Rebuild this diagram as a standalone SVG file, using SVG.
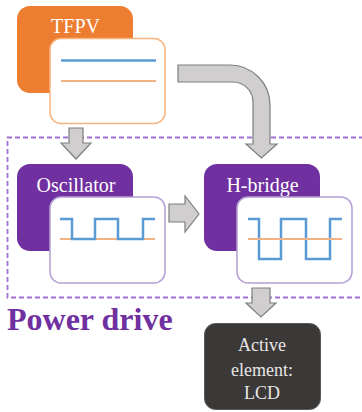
<svg xmlns="http://www.w3.org/2000/svg" width="362" height="412" viewBox="0 0 362 412">
<style>
.serif{font-family:"Liberation Serif","Times New Roman",Times,"DejaVu Serif","Noto Serif",serif}
.lbl{font-size:20px;fill:#ffffff;text-anchor:middle}
.lcdt{font-size:18px;fill:#E7E6E6;text-anchor:middle}
.arrow{fill:#D0CECE;stroke:#7F7F7F;stroke-width:1.2;stroke-linejoin:miter}
.wave{fill:none;stroke:#5B9BD5;stroke-width:2.5}
.ref{fill:none;stroke:#F4B183;stroke-width:1.8}
.panelP{fill:#ffffff;stroke:#B4A0D4;stroke-width:1.5}
</style>
<rect width="362" height="412" fill="#ffffff"/>
<g id="power-drive">
<path d="M372,137.5 H7.5 V297.5 H372" fill="none" stroke="#A070D4" stroke-width="1.8" stroke-dasharray="5,3"/>
<text class="serif" x="7" y="330" font-size="32" font-weight="bold" fill="#7030A0">Power drive</text>
</g>
<g id="connectors">
<path class="arrow" d="M69,128 H83 V143 H91 L76,159 L61,143 H69 Z"/>
<path class="arrow" d="M178,65 H230 A40,40 0 0 1 270,105 V144 H277 L261.5,158 L246,144 H253 V102 A20,20 0 0 0 233,82 H178 Z"/>
<path class="arrow" d="M169,204 H185 V196 L199,214 L185,232 V222 H169 Z"/>
<path class="arrow" d="M252,288 H270 V303 H276 L261,317 L246,303 H252 Z"/>
</g>
<g id="tfpv">
<rect x="17" y="6" width="116" height="87" rx="13" fill="#ED7D31"/>
<text class="serif lbl" x="75.5" y="33">TFPV</text>
<rect x="50" y="38.5" width="115" height="85" rx="11" fill="#ffffff" stroke="#F8B47E" stroke-width="1.5"/>
<line x1="61" y1="60.5" x2="156" y2="60.5" stroke="#5B9BD5" stroke-width="2.5"/>
<line x1="61" y1="81" x2="156" y2="81" class="ref"/>
</g>
<g id="oscillator">
<rect x="17" y="164" width="116" height="87" rx="13" fill="#7030A0"/>
<text class="serif lbl" x="76" y="191.5">Oscillator</text>
<rect class="panelP" x="50" y="197" width="115" height="86" rx="11"/>
<line x1="60" y1="239" x2="155" y2="239" class="ref"/>
<polyline class="wave" points="60,219 72,219 72,239 95,239 95,219 118,219 118,239 143,239 143,219 155,219"/>
</g>
<g id="h-bridge">
<rect x="204" y="164" width="116" height="87" rx="13" fill="#7030A0"/>
<text class="serif lbl" x="262.5" y="191.5">H-bridge</text>
<rect class="panelP" x="237" y="197" width="115" height="86" rx="11"/>
<polyline class="wave" points="248,219 259,219 259,259 281,259 281,219 306,219 306,259 330,259 330,219 342,219"/>
<line x1="248" y1="239" x2="342" y2="239" class="ref"/>
</g>
<g id="lcd">
<rect x="204.5" y="323.5" width="116" height="86" rx="11" fill="#3B3838" stroke="#595959" stroke-width="1"/>
<text class="serif lcdt" x="262" y="351">Active</text>
<text class="serif lcdt" x="262" y="376">element:</text>
<text class="serif lcdt" x="262" y="399">LCD</text>
</g>
</svg>
